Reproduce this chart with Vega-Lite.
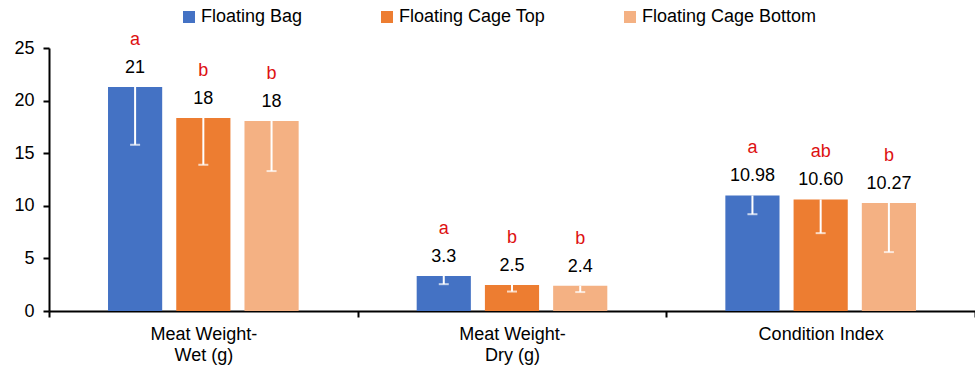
{
  "$schema": "https://vega.github.io/schema/vega-lite/v6.json",
  "width": 926,
  "height": 263,
  "autosize": {"type": "none"},
  "padding": {"left": 49, "top": 48, "right": 0, "bottom": 63},
  "config": {"view": {"stroke": null}, "font": "Liberation Sans"},
  "data": {
    "values": [
      {"cat": "Meat Weight-|Wet (g)", "series": "Floating Bag", "value": 21.3, "low": 15.8, "label": "21", "letter": "a"},
      {"cat": "Meat Weight-|Wet (g)", "series": "Floating Cage Top", "value": 18.35, "low": 13.9, "label": "18", "letter": "b"},
      {"cat": "Meat Weight-|Wet (g)", "series": "Floating Cage Bottom", "value": 18.06, "low": 13.3, "label": "18", "letter": "b"},
      {"cat": "Meat Weight-|Dry (g)", "series": "Floating Bag", "value": 3.33, "low": 2.55, "label": "3.3", "letter": "a"},
      {"cat": "Meat Weight-|Dry (g)", "series": "Floating Cage Top", "value": 2.47, "low": 1.85, "label": "2.5", "letter": "b"},
      {"cat": "Meat Weight-|Dry (g)", "series": "Floating Cage Bottom", "value": 2.4, "low": 1.8, "label": "2.4", "letter": "b"},
      {"cat": "Condition Index", "series": "Floating Bag", "value": 10.98, "low": 9.2, "label": "10.98", "letter": "a"},
      {"cat": "Condition Index", "series": "Floating Cage Top", "value": 10.6, "low": 7.4, "label": "10.60", "letter": "ab"},
      {"cat": "Condition Index", "series": "Floating Cage Bottom", "value": 10.27, "low": 5.6, "label": "10.27", "letter": "b"}
    ]
  },
  "encoding": {
    "x": {
      "field": "cat", "type": "nominal",
      "sort": ["Meat Weight-|Wet (g)", "Meat Weight-|Dry (g)", "Condition Index"],
      "scale": {"paddingInner": 0, "paddingOuter": 0},
      "axis": {
        "title": null, "labelAngle": 0, "labelExpr": "split(datum.label, '|')",
        "labelFontSize": 18, "labelColor": "#000000", "labelLineHeight": 21,
        "labelPadding": 8, "domainColor": "#000000", "domainWidth": 2,
        "tickBand": "extent", "tickColor": "#000000", "tickWidth": 2, "tickSize": 6,
        "labelBaseline": "top"
      }
    },
    "xOffset": {
      "field": "series", "type": "nominal",
      "sort": ["Floating Bag", "Floating Cage Top", "Floating Cage Bottom"],
      "scale": {"paddingInner": 0.206, "paddingOuter": 0.865}
    }
  },
  "layer": [
    {
      "mark": {"type": "bar"},
      "encoding": {
        "y": {
          "field": "value", "type": "quantitative",
          "scale": {"domain": [0, 25], "nice": false},
          "axis": {
            "title": null, "values": [0, 5, 10, 15, 20, 25], "grid": false,
            "labelFontSize": 18, "labelColor": "#000000", "labelPadding": 9,
            "domainColor": "#000000", "domainWidth": 2, "tickColor": "#000000",
            "tickWidth": 2, "tickSize": 6
          }
        },
        "color": {
          "field": "series", "type": "nominal",
          "sort": ["Floating Bag", "Floating Cage Top", "Floating Cage Bottom"],
          "scale": {"domain": ["Floating Bag", "Floating Cage Top", "Floating Cage Bottom"], "range": ["#4472C4", "#ED7D31", "#F4B183"]},
          "legend": {
            "title": null, "orient": "none", "legendX": 131, "legendY": -40,
            "direction": "horizontal", "symbolType": "square", "symbolSize": 144,
            "symbolStrokeWidth": 0, "labelFontSize": 18, "labelColor": "#000000",
            "columnPadding": 75, "labelOffset": 3, "padding": 0, "labelLimit": 0
          }
        }
      }
    },
    {
      "mark": {"type": "rule", "color": "#FFFFFF", "strokeWidth": 2},
      "encoding": {
        "y": {"field": "low", "type": "quantitative"},
        "y2": {"field": "value"}
      }
    },
    {
      "mark": {"type": "tick", "color": "#FFFFFF", "thickness": 2, "size": 10, "orient": "horizontal"},
      "encoding": {
        "y": {"field": "low", "type": "quantitative"}
      }
    },
    {
      "mark": {"type": "text", "fontSize": 18, "color": "#000000", "dy": -19, "baseline": "middle"},
      "encoding": {
        "y": {"field": "value", "type": "quantitative"},
        "text": {"field": "label"}
      }
    },
    {
      "mark": {"type": "text", "fontSize": 18, "color": "#DD1111", "dy": -47, "baseline": "middle"},
      "encoding": {
        "y": {"field": "value", "type": "quantitative"},
        "text": {"field": "letter"}
      }
    }
  ]
}
